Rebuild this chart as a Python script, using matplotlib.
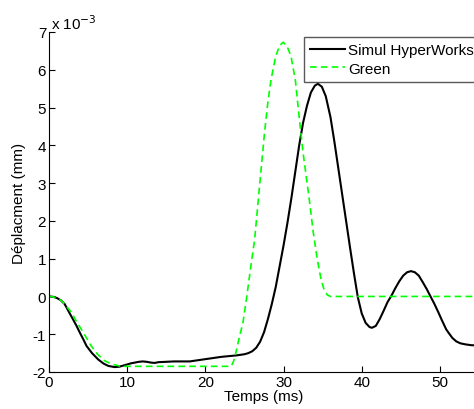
import matplotlib
matplotlib.use('Agg')
from matplotlib import pyplot as plt

plt.rcParams['font.family'] = ['Liberation Sans', 'DejaVu Sans']
plt.rcParams['font.size'] = 11
plt.rcParams['axes.unicode_minus'] = False

# Simul HyperWorks (time in ms, displacement in 1e-3 mm)
simul_t = [0, 0.5, 1, 1.5, 2, 2.6, 3, 3.5, 3.95, 4.4, 4.8, 5.5, 6.3, 7, 7.6, 8.4, 9, 9.5,
           10, 10.5, 11, 11.5, 12, 12.5, 13, 13.5, 14, 15, 16, 17, 18, 19, 20, 21, 22, 23,
           24, 25, 25.5, 26, 26.5, 27, 27.5, 28, 28.5, 29, 29.5, 30, 30.5, 31, 31.5, 32,
           32.5, 33, 33.5, 34, 34.4, 34.9, 35.4, 36, 36.5, 37, 37.5, 38, 38.5, 39, 39.5,
           40, 40.5, 41, 41.3, 41.8, 42.3, 42.8, 43.3, 43.8, 44.3, 44.8, 45.3, 45.8, 46.3,
           46.8, 47.3, 47.8, 48.3, 48.8, 49.3, 49.8, 50.3, 50.8, 51.1, 51.6, 52.1, 52.6,
           53.3, 54, 55]
simul_v = [0, -0.01, -0.04, -0.1, -0.2, -0.43, -0.58, -0.77, -0.96, -1.14, -1.31, -1.5,
           -1.67, -1.78, -1.84, -1.87, -1.86, -1.83, -1.8, -1.77, -1.75, -1.73, -1.72,
           -1.73, -1.75, -1.76, -1.74, -1.73, -1.72, -1.72, -1.72, -1.69, -1.66, -1.63,
           -1.6, -1.58, -1.56, -1.53, -1.5, -1.45, -1.36, -1.2, -0.95, -0.6, -0.2, 0.25,
           0.8, 1.35, 1.95, 2.6, 3.3, 4.0, 4.6, 5.05, 5.4, 5.58, 5.63, 5.55, 5.3, 4.75,
           4.1, 3.4, 2.7, 2.0, 1.3, 0.62, -0.02, -0.45, -0.7, -0.81, -0.83, -0.78, -0.6,
           -0.38, -0.15, 0.02, 0.22, 0.4, 0.55, 0.64, 0.67, 0.64, 0.55, 0.38, 0.2, 0.0,
           -0.2, -0.42, -0.65, -0.87, -0.96, -1.1, -1.19, -1.24, -1.27, -1.29, -1.3]

# Green
green_t = [0, 0.5, 1, 1.5, 2, 2.9, 3.5, 4.4, 5.4, 6.2, 7.1, 8, 9, 9.7, 23.3, 23.6, 23.9,
           24.3, 24.8, 25.3, 25.85, 26.3, 26.7, 27.1, 27.55, 28, 28.4, 29, 29.5, 29.97,
           30.5, 30.95, 31.5, 32, 32.5, 33.3, 33.8, 34.3, 34.8, 35.2, 35.6, 36, 55]
green_v = [0, -0.01, -0.04, -0.1, -0.2, -0.43, -0.66, -0.96, -1.31, -1.53, -1.7, -1.79,
           -1.84, -1.85, -1.85, -1.72, -1.49, -1.12, -0.7, 0.0, 0.85, 1.5, 2.4, 3.3, 4.3,
           5.15, 5.74, 6.36, 6.64, 6.73, 6.6, 6.36, 5.74, 4.75, 3.8, 2.55, 1.7, 1.0, 0.45,
           0.17, 0.04, 0, 0]

yticks = [-2, -1, 0, 1, 2, 3, 4, 5, 6, 7]
xticks = [0, 10, 20, 30, 40, 50]

fig = plt.figure(figsize=(4.74, 4.10), dpi=100)
ax = fig.add_axes([49 / 474, 37 / 410, 430 / 474, 340 / 410])

ax.plot(simul_t, simul_v, color='k', lw=1.5, label='Simul HyperWorks')
ax.plot(green_t, green_v, color='#00ff00', lw=1.2, ls=(0, (4, 2.5)), label='Green')

ax.set_xlim(0, 55)
ax.set_ylim(-2, 7)
ax.set_xticks(xticks)
ax.set_yticks(yticks)
ax.spines['top'].set_visible(False)
ax.spines['right'].set_visible(False)
ax.tick_params(direction='in', length=4, width=0.8, pad=2)

ax.set_xlabel('Temps (ms)', labelpad=0)
ax.set_ylabel('Déplacment (mm)', labelpad=5)

ax.text(0.005, 1.0, 'x 10$^{-3}$', transform=ax.transAxes, ha='left', va='bottom')

leg = ax.legend(loc='upper left', bbox_to_anchor=(0.593, 0.985), borderaxespad=0,
                fancybox=False, edgecolor='0.35', framealpha=1, handlelength=2.3,
                handletextpad=0.2, borderpad=0.4, labelspacing=0.3)
leg.get_frame().set_linewidth(1.0)

fig.savefig('out.png', dpi=100)
